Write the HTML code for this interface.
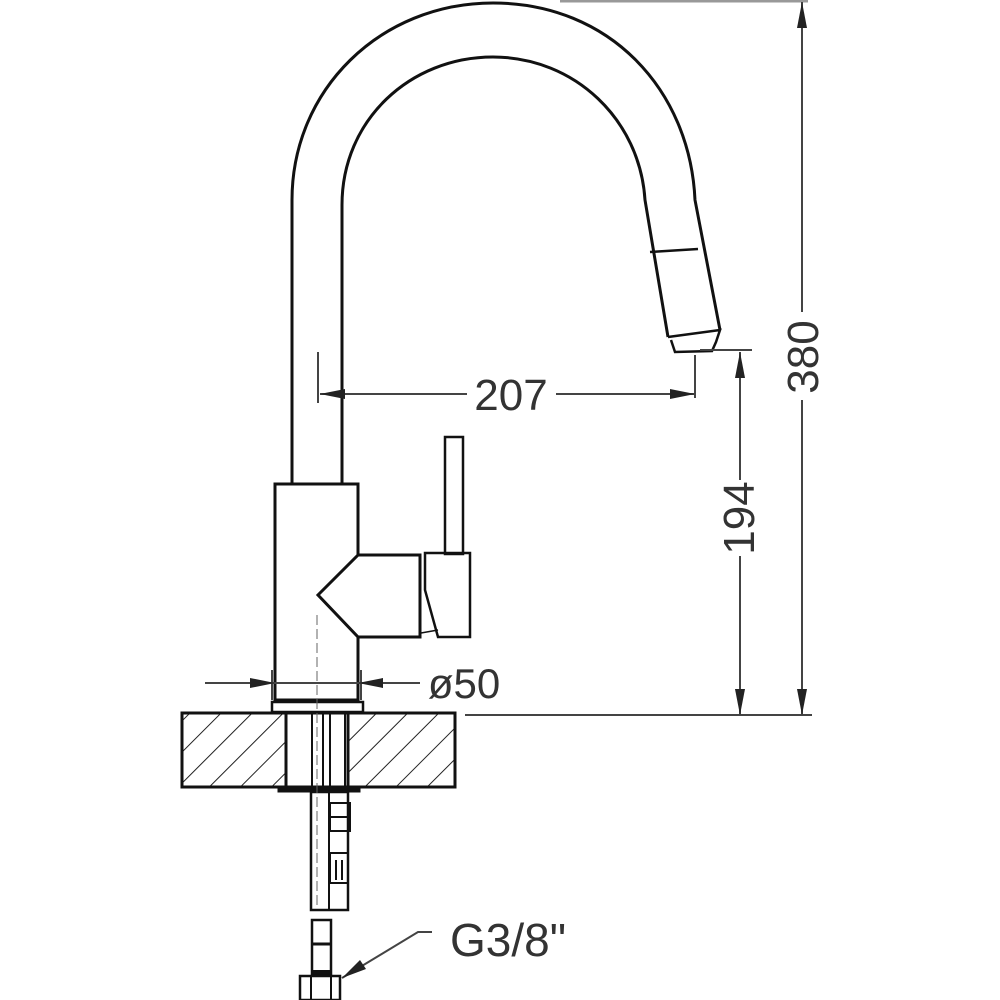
<!DOCTYPE html>
<html><head><meta charset="utf-8"><style>
html,body{margin:0;padding:0;background:#fff;}
svg{display:block;}
text{font-family:"Liberation Sans","DejaVu Sans",sans-serif;fill:#333;}
</style></head><body>
<svg width="1000" height="1000" viewBox="0 0 1000 1000" xmlns="http://www.w3.org/2000/svg">
<defs>
<pattern id="h" width="22" height="22" patternUnits="userSpaceOnUse" patternTransform="rotate(45)">
<line x1="0" y1="0" x2="0" y2="22" stroke="#222" stroke-width="2"/>
</pattern>
</defs>
<g fill="none" stroke="#111" stroke-width="3">
<path d="M292 485 V200 C292 90 380 3 493 3 C610 3 690 90 695 200 L720 330"/>
<path d="M342 485 V205 C342 120 410 57 493 57 C575 57 640 120 645 200 L668 337"/>
<line x1="650" y1="252" x2="698" y2="249" stroke-width="2.5"/>
<path d="M668 337 L720 330 L716 342 L712 351 L675 352 L671 340" stroke-width="2.5"/>
<path d="M275 700 V484 H358 V555 L318 595 L358 637 V700 Z"/>
<path d="M358 555 H420 V637 H358"/>
<path d="M425 553 H470 V637 H438 L425 590 Z" stroke-width="2.5"/>
<line x1="420" y1="555" x2="420" y2="637" stroke-width="2"/>
<line x1="421" y1="633" x2="438" y2="630" stroke-width="1.5"/>
<rect x="445" y="437" width="18" height="117" stroke-width="2.5"/>
<rect x="272" y="702" width="91" height="10" stroke-width="2.5"/>
<rect x="182" y="713" width="273" height="74" fill="url(#h)"/>
<rect x="286" y="713" width="62" height="74" fill="#fff"/>
<line x1="312" y1="713" x2="312" y2="787" stroke-width="2"/>
<line x1="323" y1="713" x2="323" y2="787" stroke-width="2"/>
<line x1="330" y1="713" x2="330" y2="787" stroke-width="2"/>
<line x1="345" y1="713" x2="345" y2="787" stroke-width="2"/>
<rect x="278" y="787" width="82" height="5" fill="#111" stroke-width="1"/>
<rect x="311" y="792" width="37" height="118" stroke-width="2.5"/>
<line x1="329" y1="792" x2="329" y2="910" stroke-width="2"/>
<rect x="330" y="803" width="20" height="28" stroke-width="2"/>
<line x1="330" y1="817" x2="350" y2="817" stroke-width="2"/>
<rect x="330" y="853" width="18" height="30" stroke-width="2"/>
<line x1="336" y1="860" x2="336" y2="880" stroke-width="2"/>
<line x1="342" y1="860" x2="342" y2="880" stroke-width="2"/>
<rect x="312" y="920" width="19" height="55" stroke-width="2.5"/>
<line x1="311" y1="944" x2="332" y2="944" stroke-width="3"/>
<line x1="311" y1="972" x2="332" y2="972" stroke-width="4"/>
<rect x="300" y="976" width="40" height="24" stroke-width="2.5"/>
<line x1="311" y1="976" x2="311" y2="1000" stroke-width="2"/>
<line x1="331" y1="976" x2="331" y2="1000" stroke-width="2"/>
</g>
<line x1="317" y1="615" x2="317" y2="905" stroke="#666" stroke-width="1" stroke-dasharray="10,4"/>
<g stroke="#444" stroke-width="2" fill="none">
<line x1="318" y1="352" x2="318" y2="403"/>
<line x1="695" y1="355" x2="695" y2="398"/>
<line x1="320" y1="394" x2="467" y2="394"/>
<line x1="556" y1="394" x2="695" y2="394"/>
<line x1="700" y1="350" x2="752" y2="350"/>
<line x1="740" y1="352" x2="740" y2="480"/>
<line x1="740" y1="556" x2="740" y2="715"/>
<line x1="560" y1="1" x2="808" y2="1" stroke="#999" stroke-width="3"/>
<line x1="802" y1="2" x2="802" y2="312"/>
<line x1="802" y1="400" x2="802" y2="715"/>
<line x1="465" y1="715" x2="812" y2="715"/>
<line x1="205" y1="683" x2="420" y2="683"/>
<line x1="272" y1="670" x2="272" y2="700"/>
<line x1="361" y1="670" x2="361" y2="700"/>
<polyline points="342,978 418,932 432,932"/>
</g>
<g fill="#222">
<polygon points="320,394 345,389 345,399"/>
<polygon points="695,394 670,389 670,399"/>
<polygon points="740,352 735,378 745,378"/>
<polygon points="740,715 735,689 745,689"/>
<polygon points="802,2 797,28 807,28"/>
<polygon points="802,715 797,689 807,689"/>
<polygon points="275,683 250,678 250,688"/>
<polygon points="358,683 383,678 383,688"/>
<polygon points="342,978 360,960 366,969"/>
</g>
<text x="511" y="410" font-size="44" text-anchor="middle">207</text>
<text x="464" y="698" font-size="42" text-anchor="middle">ø50</text>
<text x="508" y="956" font-size="46" text-anchor="middle">G3/8"</text>
<text transform="translate(754,518) rotate(-90)" font-size="44" text-anchor="middle">194</text>
<text transform="translate(818,357) rotate(-90)" font-size="44" text-anchor="middle">380</text>
</svg>
</body></html>
